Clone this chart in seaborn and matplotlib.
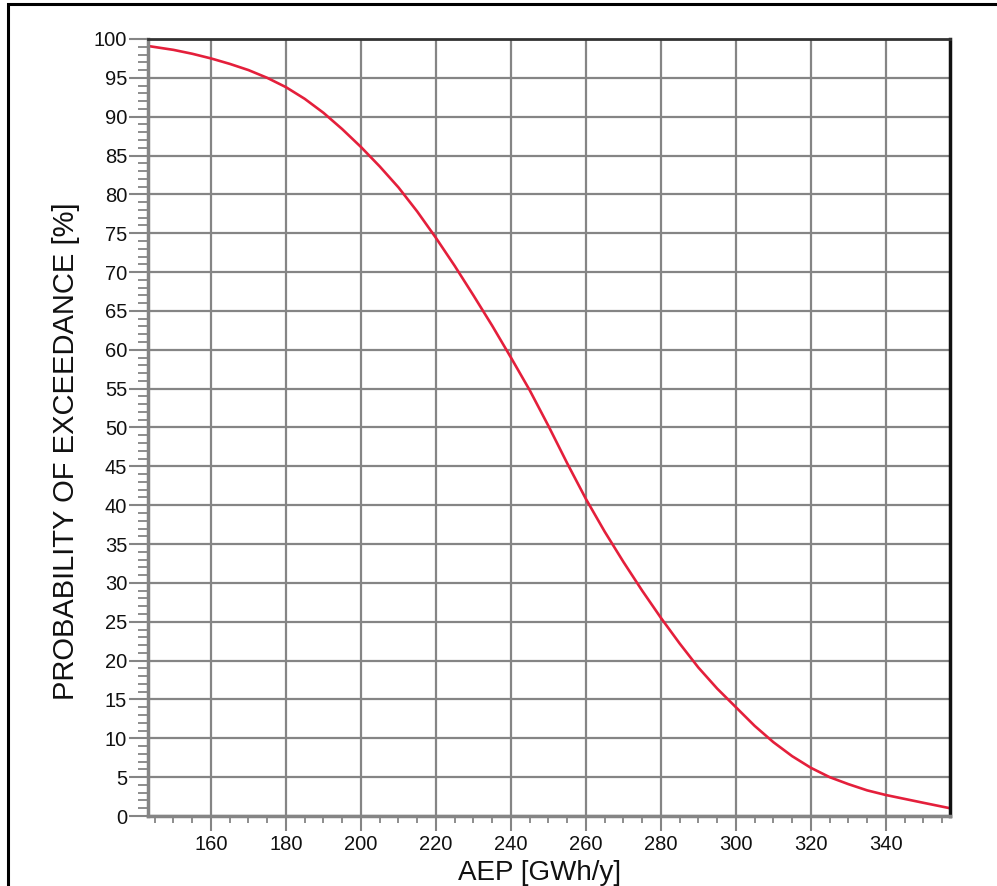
import matplotlib
matplotlib.use("Agg")
import matplotlib.pyplot as plt
from matplotlib.ticker import MultipleLocator
from matplotlib.patches import Rectangle
import seaborn as sns
import pandas as pd

# Annual energy production [GWh/y] and probability of exceedance [%]
aep = [143.2, 150, 155, 160, 165, 170, 175, 180, 185, 190, 195, 200, 205, 210, 215,
       220, 225, 230, 235, 240, 245, 250, 255, 260, 265, 270, 275, 280, 285, 290,
       295, 300, 305, 310, 315, 320, 325, 330, 335, 340, 345, 350, 357.1]
exceedance = [99.1, 98.6, 98.1, 97.5, 96.8, 96.0, 95.0, 93.8, 92.3, 90.5, 88.4, 86.1, 83.6, 80.9, 77.8,
              74.4, 70.8, 67.0, 63.1, 59.0, 54.8, 50.2, 45.4, 40.8, 36.6, 32.7, 29.0, 25.5, 22.2, 19.1,
              16.4, 14.0, 11.6, 9.5, 7.7, 6.2, 5.0, 4.1, 3.3, 2.7, 2.2, 1.7, 1.0]

x_major = [160, 180, 200, 220, 240, 260, 280, 300, 320, 340]
y_major = list(range(0, 101, 5))

sns.set_style("white")
plt.rcParams["font.family"] = ["Liberation Sans", "DejaVu Sans"]

df = pd.DataFrame({"AEP": aep, "POE": exceedance})

fig = plt.figure(figsize=(9.97, 8.86), dpi=100)
ax = fig.add_axes([148 / 997, 1 - 816 / 886, (950 - 148) / 997, (816 - 39) / 886])

grid_c = "#858585"
ax.set_xlim(143.2, 357.1)
ax.set_ylim(0, 100)
ax.set_xticks(x_major)
ax.set_yticks(y_major)
ax.xaxis.set_minor_locator(MultipleLocator(5))
ax.yaxis.set_minor_locator(MultipleLocator(1))
ax.grid(True, which="major", color=grid_c, linewidth=1.6, zorder=0)
ax.grid(False, which="minor")
ax.set_axisbelow(True)

sns.lineplot(data=df, x="AEP", y="POE", ax=ax, color="#e41f3b", linewidth=1.9, zorder=3)

ax.tick_params(axis="both", which="both", bottom=True, left=True, top=False, right=False)
ax.tick_params(axis="both", which="major", direction="out", labelsize=14.5,
               colors=grid_c, labelcolor="#111111", width=1.5)
ax.tick_params(axis="y", which="major", length=14, pad=1)
ax.tick_params(axis="x", which="major", length=11, pad=3)
ax.tick_params(axis="y", which="minor", direction="out", length=7, width=1.3, colors=grid_c)
ax.tick_params(axis="x", which="minor", direction="out", length=5, width=1.3, colors=grid_c)

for side in ["left", "bottom"]:
    ax.spines[side].set_color(grid_c)
    ax.spines[side].set_linewidth(2.5)
ax.spines["top"].set_color("#333333")
ax.spines["top"].set_linewidth(2.0)
ax.spines["right"].set_color("#111111")
ax.spines["right"].set_linewidth(2.5)
for s in ax.spines.values():
    s.set_zorder(4)

ax.set_xlabel("AEP [GWh/y]", fontsize=20, color="#111111")
ax.set_ylabel("PROBABILITY OF EXCEEDANCE [%]", fontsize=21, color="#111111")
ax.xaxis.set_label_coords(0.488, -0.056)
ax.yaxis.set_label_coords(-0.085, 0.47)

# frame around the figure (open on the right and bottom edges)
fig.patches.append(Rectangle((8 / 997, -0.1), 1.2, 1 - 4 / 886 + 0.1,
                             transform=fig.transFigure, fill=False,
                             edgecolor="black", linewidth=2.2))

fig.savefig("out.png", dpi=100)
